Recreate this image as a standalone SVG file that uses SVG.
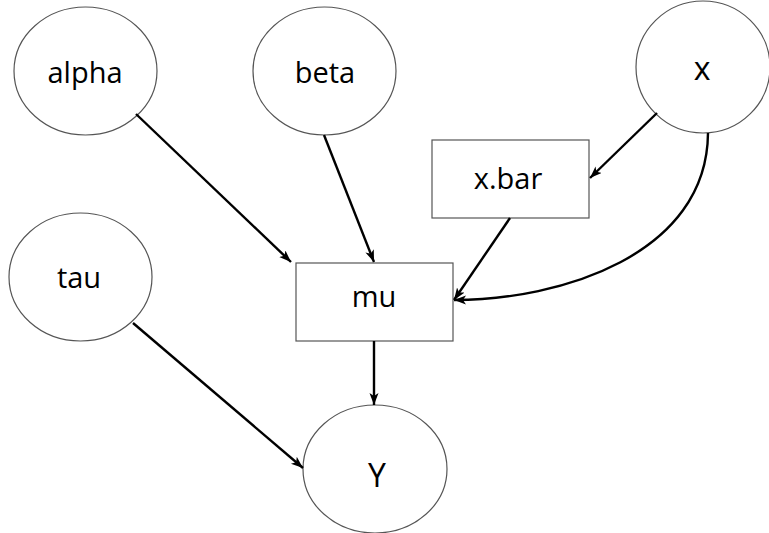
<svg xmlns="http://www.w3.org/2000/svg" width="769" height="533" viewBox="0 0 769 533">
  <defs>
    <style>
      .node { fill: #ffffff; stroke: #555555; stroke-width: 1.2; }
      .label { font-family: "Open Sans", "Liberation Sans", sans-serif; font-size: 29px; fill: #000000; text-anchor: middle; }
      .big { font-size: 32px; }
      .edge { fill: none; stroke: #000000; stroke-width: 2.4; }
    </style>
    <marker id="arrow" markerUnits="userSpaceOnUse" markerWidth="13" markerHeight="10" refX="12" refY="4.5" orient="auto">
      <path d="M0,0 L12,4.5 L0,9 L3,4.5 z" fill="#000000"/>
    </marker>
  </defs>

  <rect x="0" y="0" width="769" height="533" fill="#ffffff"/>

  <!-- parents of mu and Y -->
  <g id="alpha">
    <ellipse class="node" cx="85.5" cy="71" rx="71.5" ry="64"/>
    <text class="label" x="85" y="83">alpha</text>
  </g>
  <g id="beta">
    <ellipse class="node" cx="324.5" cy="71" rx="71.5" ry="64"/>
    <text class="label" x="325" y="83">beta</text>
  </g>
  <g id="x">
    <ellipse class="node" cx="703" cy="67" rx="67" ry="66"/>
    <text class="label big" x="702" y="80">x</text>
  </g>
  <g id="xbar">
    <rect class="node" x="432" y="140" width="157" height="78"/>
    <text class="label" x="508" y="189">x.bar</text>
  </g>
  <g id="tau">
    <ellipse class="node" cx="80.5" cy="277" rx="71.5" ry="64"/>
    <text class="label" x="79" y="288">tau</text>
  </g>
  <g id="mu">
    <rect class="node" x="296" y="263" width="157" height="78"/>
    <text class="label" x="374" y="307">mu</text>
  </g>
  <g id="Y">
    <ellipse class="node" cx="375" cy="469" rx="72" ry="64"/>
    <text class="label big" x="377" y="487">Y</text>
  </g>

  <!-- directed edges -->
  <g id="connectors">
    <path class="edge" d="M136,114 L291,262" marker-end="url(#arrow)"/>
    <path class="edge" d="M324,135 L374,262" marker-end="url(#arrow)"/>
    <path class="edge" d="M657,113 L590,178" marker-end="url(#arrow)"/>
    <path class="edge" d="M510,218 L454,300" marker-end="url(#arrow)"/>
    <path class="edge" d="M708,133 C707,255 560,300 454,300" marker-end="url(#arrow)"/>
    <path class="edge" d="M374,341 L374,405" marker-end="url(#arrow)"/>
    <path class="edge" d="M133,323 L303,468" marker-end="url(#arrow)"/>
  </g>
</svg>
